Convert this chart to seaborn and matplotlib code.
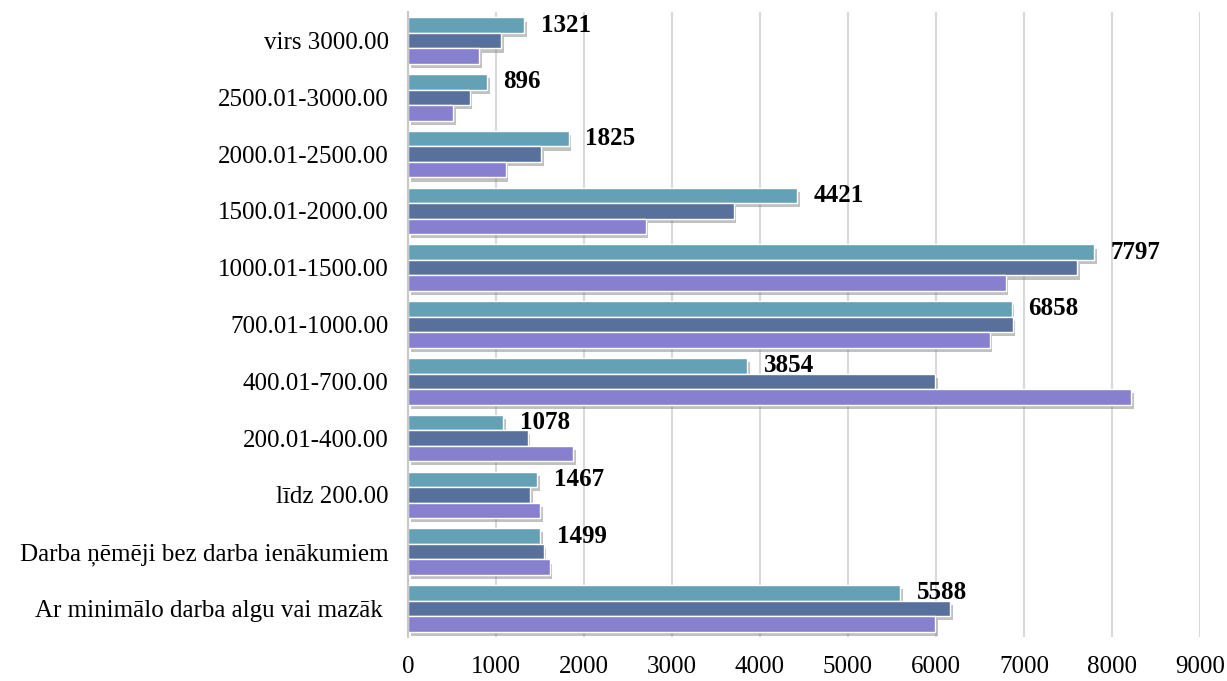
import pandas as pd
import matplotlib
matplotlib.use("Agg")
import matplotlib.pyplot as plt
import matplotlib.patheffects as pe
import seaborn as sns

# Dati (no augšas uz leju)
kategorijas = [
    "virs 3000.00",
    "2500.01-3000.00",
    "2000.01-2500.00",
    "1500.01-2000.00",
    "1000.01-1500.00",
    "700.01-1000.00",
    "400.01-700.00",
    "200.01-400.00",
    "līdz 200.00",
    "Darba ņēmēji bez darba ienākumiem",
    "Ar minimālo darba algu vai mazāk ",
]
serija_1 = [1321, 896, 1825, 4421, 7797, 6858, 3854, 1078, 1467, 1499, 5588]
serija_2 = [1060, 700, 1510, 3700, 7600, 6870, 5990, 1360, 1390, 1540, 6160]
serija_3 = [810, 515, 1110, 2700, 6790, 6610, 8220, 1880, 1500, 1610, 5990]
serijas = ["s1", "s2", "s3"]
krasas = ["#64a0b6", "#57709c", "#8780cf"]
x_ticks = [0, 1000, 2000, 3000, 4000, 5000, 6000, 7000, 8000, 9000]

df = pd.DataFrame({
    "kategorija": kategorijas * 3,
    "vertiba": serija_1 + serija_2 + serija_3,
    "serija": [s for s in serijas for _ in kategorijas],
})

sns.set_style("white")
plt.rcParams["font.family"] = ["Liberation Serif", "DejaVu Serif"]
plt.rcParams["text.color"] = "black"
plt.rcParams["xtick.color"] = "black"
plt.rcParams["ytick.color"] = "black"

fig, ax = plt.subplots(figsize=(12.27, 6.81), dpi=100)
fig.subplots_adjust(left=0.3325, right=0.978, top=0.982, bottom=0.065)

sns.barplot(data=df, y="kategorija", x="vertiba", hue="serija", order=kategorijas,
            hue_order=serijas, palette=krasas, orient="h", width=0.82,
            legend=False, ax=ax, saturation=1)

# ēna zem stabiņiem
for cont in ax.containers:
    for bar in cont:
        bar.set_path_effects([pe.SimplePatchShadow(offset=(2, -3), shadow_rgbFace="#777777",
                                                   alpha=0.45),
                              pe.Normal()])

ax.bar_label(ax.containers[0], labels=[str(v) for v in serija_1], padding=12,
             fontsize=18, fontweight="bold", color="black")

ax.set_xlim(0, 9000)
ax.set_xticks(x_ticks)
ax.xaxis.grid(True, color="#d9d9d9", linewidth=1.5)
ax.set_axisbelow(True)
ax.set_xlabel("")
ax.set_ylabel("")
for s in ["top", "right", "bottom"]:
    ax.spines[s].set_visible(False)
ax.spines["left"].set_color("#c8c8c8")
ax.spines["left"].set_linewidth(1.5)
ax.tick_params(axis="y", length=0, pad=14, labelsize=18)
ax.tick_params(axis="x", length=0, pad=14, labelsize=18)

plt.savefig("out.png", dpi=100)
